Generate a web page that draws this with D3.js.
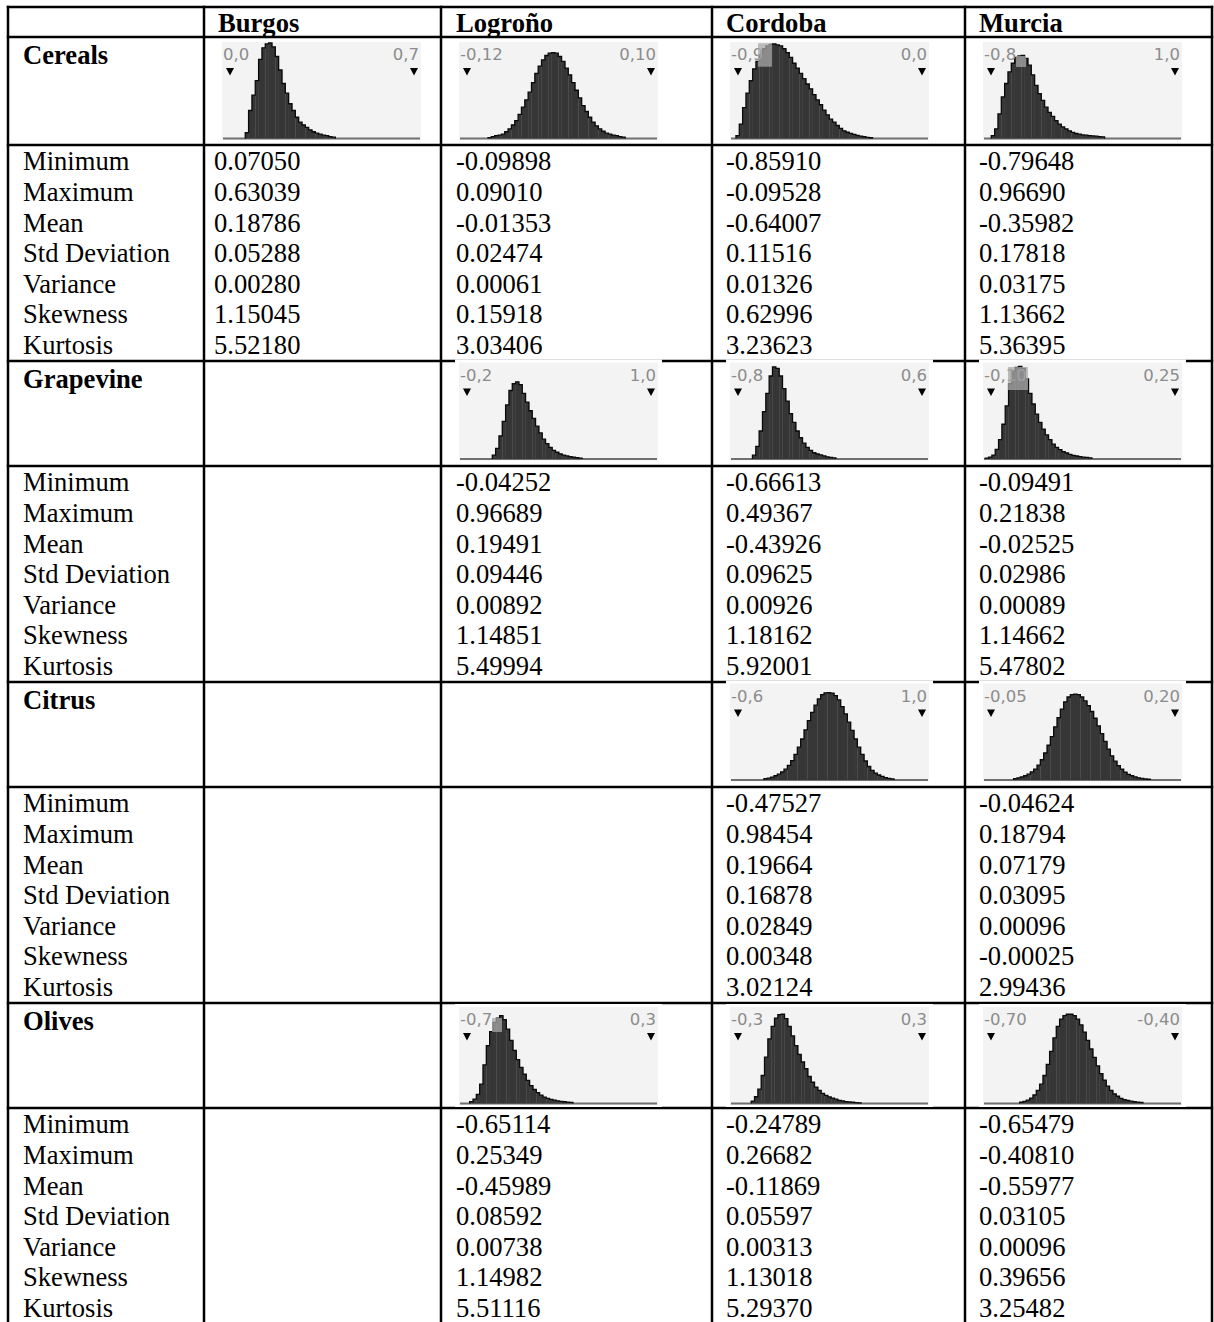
<!DOCTYPE html>
<html><head><meta charset="utf-8">
<script src="https://cdn.jsdelivr.net/npm/d3@7"></script>
<style>body{margin:0;background:#fff}svg{display:block}</style>
</head><body>
<svg id="c" width="1214" height="1322"></svg>
<script>
// ---------------- DATA ----------------
const columns = ["Burgos", "Logroño", "Cordoba", "Murcia"];
const crops = ["Cereals", "Grapevine", "Citrus", "Olives"];
const statNames = ["Minimum", "Maximum", "Mean", "Std Deviation", "Variance", "Skewness", "Kurtosis"];

// stats per crop, one array per column (null = empty cell)
const cerealsStats = [
  [0.07050, 0.63039, 0.18786, 0.05288, 0.00280, 1.15045, 5.52180],
  [-0.09898, 0.09010, -0.01353, 0.02474, 0.00061, 0.15918, 3.03406],
  [-0.85910, -0.09528, -0.64007, 0.11516, 0.01326, 0.62996, 3.23623],
  [-0.79648, 0.96690, -0.35982, 0.17818, 0.03175, 1.13662, 5.36395]
];
const grapevineStats = [
  null,
  [-0.04252, 0.96689, 0.19491, 0.09446, 0.00892, 1.14851, 5.49994],
  [-0.66613, 0.49367, -0.43926, 0.09625, 0.00926, 1.18162, 5.92001],
  [-0.09491, 0.21838, -0.02525, 0.02986, 0.00089, 1.14662, 5.47802]
];
const citrusStats = [
  null, null,
  [-0.47527, 0.98454, 0.19664, 0.16878, 0.02849, 0.00348, 3.02124],
  [-0.04624, 0.18794, 0.07179, 0.03095, 0.00096, -0.00025, 2.99436]
];
const olivesStats = [
  null,
  [-0.65114, 0.25349, -0.45989, 0.08592, 0.00738, 1.14982, 5.51116],
  [-0.24789, 0.26682, -0.11869, 0.05597, 0.00313, 1.13018, 5.29370],
  [-0.65479, -0.40810, -0.55977, 0.03105, 0.00096, 0.39656, 3.25482]
];
const statsByCrop = [cerealsStats, grapevineStats, citrusStats, olivesStats];

// histogram bar heights (fraction of the panel height)
const histCerealsBurgos = [0.06,0.29,0.45,0.6,0.82,0.94,0.98,0.99,0.95,0.85,0.71,0.57,0.47,0.36,0.29,0.22,0.17,0.14,0.115,0.09,0.07,0.055,0.045,0.035,0.03,0.02,0.015];
const histCerealsLogrono = [0.01,0.02,0.03,0.035,0.045,0.07,0.1,0.14,0.185,0.25,0.325,0.4,0.48,0.58,0.675,0.75,0.815,0.86,0.885,0.89,0.885,0.85,0.8,0.73,0.66,0.58,0.5,0.42,0.34,0.28,0.22,0.17,0.13,0.1,0.075,0.055,0.045,0.035,0.03,0.02,0.015];
const histCerealsCordoba = [0.03,0.15,0.32,0.47,0.6,0.72,0.8,0.87,0.93,0.96,0.975,0.98,0.97,0.96,0.93,0.89,0.84,0.78,0.73,0.675,0.62,0.565,0.515,0.455,0.4,0.35,0.295,0.245,0.2,0.17,0.135,0.105,0.08,0.065,0.052,0.042,0.033,0.025,0.018,0.012,0.008];
const histCerealsMurcia = [0.03,0.1,0.255,0.43,0.57,0.69,0.78,0.84,0.855,0.86,0.83,0.76,0.66,0.55,0.465,0.395,0.325,0.27,0.23,0.185,0.15,0.12,0.1,0.08,0.063,0.052,0.045,0.038,0.034,0.03,0.027,0.024,0.02,0.016];
const histGrapeLogrono = [0.04,0.11,0.24,0.39,0.56,0.71,0.78,0.8,0.77,0.68,0.59,0.5,0.42,0.34,0.27,0.205,0.16,0.12,0.09,0.07,0.054,0.041,0.032,0.025,0.018,0.013,0.009];
const histGrapeCordoba = [0.04,0.13,0.29,0.49,0.68,0.86,0.955,0.94,0.86,0.73,0.6,0.47,0.38,0.29,0.22,0.165,0.12,0.09,0.065,0.052,0.042,0.032,0.022,0.017,0.011];
const histGrapeMurcia = [0.01,0.02,0.04,0.1,0.2,0.36,0.55,0.78,0.91,0.95,0.96,0.94,0.83,0.68,0.57,0.465,0.38,0.31,0.25,0.2,0.155,0.12,0.097,0.076,0.062,0.048,0.038,0.031,0.024,0.02,0.016,0.012];
const histCitrusCordoba = [0.014,0.02,0.03,0.044,0.06,0.084,0.113,0.152,0.2,0.265,0.34,0.425,0.52,0.615,0.7,0.775,0.84,0.885,0.903,0.905,0.9,0.875,0.83,0.76,0.685,0.6,0.515,0.425,0.34,0.265,0.197,0.14,0.1,0.072,0.052,0.037,0.025,0.017,0.011];
const histCitrusMurcia = [0.014,0.022,0.032,0.044,0.061,0.084,0.113,0.155,0.21,0.28,0.36,0.45,0.55,0.645,0.735,0.81,0.86,0.885,0.89,0.885,0.86,0.82,0.77,0.71,0.64,0.56,0.48,0.4,0.32,0.25,0.195,0.15,0.113,0.082,0.059,0.044,0.032,0.023,0.017,0.012,0.008];
const histOlivesLogrono = [0.02,0.045,0.095,0.2,0.4,0.6,0.745,0.84,0.885,0.91,0.87,0.77,0.655,0.55,0.455,0.375,0.305,0.24,0.185,0.145,0.112,0.086,0.067,0.053,0.043,0.034,0.027,0.022,0.018,0.015,0.012];
const histOlivesCordoba = [0.025,0.07,0.15,0.29,0.48,0.67,0.8,0.885,0.92,0.925,0.88,0.8,0.7,0.6,0.51,0.43,0.36,0.28,0.22,0.17,0.135,0.105,0.085,0.068,0.056,0.045,0.033,0.026,0.02,0.016,0.013,0.009,0.006];
const histOlivesMurcia = [0.013,0.022,0.036,0.056,0.088,0.135,0.2,0.29,0.405,0.54,0.68,0.8,0.875,0.91,0.925,0.925,0.91,0.875,0.815,0.74,0.655,0.565,0.477,0.39,0.31,0.243,0.18,0.135,0.1,0.075,0.054,0.04,0.031,0.024,0.018,0.015,0.011];

// histogram axis labels and bin layout (data units)
const histSpecs = [
  {crop:0, col:0, lo:0.0,   hi:0.7,   loLabel:"0,0",   hiLabel:"0,7",   start:0.058,   step:0.0127,  heights:histCerealsBurgos},
  {crop:0, col:1, lo:-0.12, hi:0.10,  loLabel:"-0,12", hiLabel:"0,10",  start:-0.0949, step:0.004,   heights:histCerealsLogrono},
  {crop:0, col:2, lo:-0.9,  hi:0.0,   loLabel:"-0,9",  hiLabel:"0,0",   start:-0.91,   step:0.0163,  heights:histCerealsCordoba, hl:[-0.802,-0.734,0.744,0.987]},
  {crop:0, col:3, lo:-0.8,  hi:1.0,   loLabel:"-0,8",  hiLabel:"1,0",   start:-0.797,  step:0.0326,  heights:histCerealsMurcia,  hl:[-0.555,-0.458,0.741,0.855]},
  {crop:1, col:1, lo:-0.2,  hi:1.0,   loLabel:"-0,2",  hiLabel:"1,0",   start:-0.035,  step:0.0217,  heights:histGrapeLogrono},
  {crop:1, col:2, lo:-0.8,  hi:0.6,   loLabel:"-0,8",  hiLabel:"0,6",   start:-0.69,   step:0.0254,  heights:histGrapeCordoba},
  {crop:1, col:3, lo:-0.10, hi:0.25,  loLabel:"-0,10", hiLabel:"0,25",  start:-0.111,  step:0.00634, heights:histGrapeMurcia,    hl:[-0.0677,-0.0297,0.715,0.953]},
  {crop:2, col:2, lo:-0.6,  hi:1.0,   loLabel:"-0,6",  hiLabel:"1,0",   start:-0.374,  step:0.029,   heights:histCitrusCordoba},
  {crop:2, col:3, lo:-0.05, hi:0.20,  loLabel:"-0,05", hiLabel:"0,20",  start:-0.0192, step:0.00453, heights:histCitrusMurcia},
  {crop:3, col:1, lo:-0.7,  hi:0.3,   loLabel:"-0,7",  hiLabel:"0,3",   start:-0.6855, step:0.0181,  heights:histOlivesLogrono,  hl:[-0.564,-0.51,0.741,0.886]},
  {crop:3, col:2, lo:-0.3,  hi:0.3,   loLabel:"-0,3",  hiLabel:"0,3",   start:-0.257,  step:0.01087, heights:histOlivesCordoba},
  {crop:3, col:3, lo:-0.70, hi:-0.40, loLabel:"-0,70", hiLabel:"-0,40", start:-0.6533, step:0.00543, heights:histOlivesMurcia}
];

// ---------------- LAYOUT ----------------
const svg = d3.select("#c");
const colLines = [8, 204, 441, 712, 965, 1212];
const headerX = [218, 456, 726, 979];
const valueX  = [214, 456, 726, 979];
const labelX = 23;
const tableTop = 7, headerH = 30;
const histRowH = [108, 105, 105, 105];
const boxOffset = [5, 1.5, 1.5, 4];
const statBlockH = 216;
const fontSerif = "'Liberation Serif','Times New Roman',serif";
const fs = 26.6;
const fmt = d3.formatLocale({decimal: ".", thousands: ",", grouping: [3], currency: ["", ""], minus: "-"}).format(".5f");

// row tops
const histTop = [], statTop = [];
let yCur = tableTop + headerH;
crops.forEach((c, i) => {
  histTop.push(yCur); yCur += histRowH[i];
  statTop.push(yCur); yCur += statBlockH;
});

const gLines = svg.append("g");
const gHist = svg.append("g");
const gText = svg.append("g");

// horizontal rules
const hLines = [tableTop, tableTop + headerH];
crops.forEach((c, i) => { hLines.push(statTop[i]); hLines.push(statTop[i] + statBlockH); });
gLines.selectAll("line.h").data(hLines).join("line")
  .attr("x1", colLines[0] - 1.2).attr("x2", colLines[colLines.length - 1] + 1.2)
  .attr("y1", d => d).attr("y2", d => d)
  .attr("stroke", "#000").attr("stroke-width", 2.5);
gLines.selectAll("line.v").data(colLines).join("line")
  .attr("x1", d => d).attr("x2", d => d)
  .attr("y1", tableTop - 1.2).attr("y2", 1330)
  .attr("stroke", "#000").attr("stroke-width", 2.5);

// header
gText.selectAll("text.hdr").data(columns).join("text")
  .attr("x", (d, i) => headerX[i]).attr("y", tableTop + 25)
  .attr("font-family", fontSerif).attr("font-size", fs).attr("font-weight", "bold")
  .text(d => d);

// crop labels and stats
crops.forEach((crop, ci) => {
  gText.append("text").attr("x", labelX).attr("y", histTop[ci] + 27)
    .attr("font-family", fontSerif).attr("font-size", fs).attr("font-weight", "bold").text(crop);
  statNames.forEach((s, si) => {
    const yb = statTop[ci] + 25.4 + si * 30.6;
    gText.append("text").attr("x", labelX).attr("y", yb)
      .attr("font-family", fontSerif).attr("font-size", fs).text(s);
    statsByCrop[ci].forEach((vals, col) => {
      if (!vals) return;
      gText.append("text").attr("x", valueX[col]).attr("y", yb)
        .attr("font-family", fontSerif).attr("font-size", fs).text(fmt(vals[si]));
    });
  });
});

// histograms
const W = 199, H = 98, plotH = 96.5;
histSpecs.forEach(spec => {
  const bx = colLines[spec.col + 1] + 18;
  const by = histTop[spec.crop] + boxOffset[spec.crop];
  const g = gHist.append("g");
  g.append("rect").attr("x", bx - 4).attr("y", by - 3).attr("width", W + 8).attr("height", H + 5).attr("fill", "#fff");
  g.append("rect").attr("x", bx).attr("y", by).attr("width", W).attr("height", H).attr("fill", "#f3f3f3");
  const x = d3.scaleLinear().domain([spec.lo, spec.hi]).range([bx + 8, bx + 192]);
  const y = d3.scaleLinear().domain([0, 1]).range([by + plotH, by]);
  g.append("line").attr("x1", bx + 1).attr("x2", bx + W - 1).attr("y1", y(0)).attr("y2", y(0))
    .attr("stroke", "#707070").attr("stroke-width", 2);
  const bins = spec.heights.map((h, i) => ({x0: spec.start + i * spec.step, x1: spec.start + (i + 1) * spec.step, h}));
  g.selectAll("rect.bar").data(bins).join("rect")
    .attr("x", d => x(d.x0)).attr("width", d => x(d.x1) - x(d.x0) + 0.3)
    .attr("y", d => y(d.h)).attr("height", d => y(0) - y(d.h))
    .attr("fill", "#363636");
  const pts = [[x(bins[0].x0), y(0)]];
  bins.forEach(d => { pts.push([x(d.x0), y(d.h)]); pts.push([x(d.x1), y(d.h)]); });
  pts.push([x(bins[bins.length - 1].x1), y(0)]);
  g.append("path").attr("d", d3.line()(pts)).attr("fill", "none").attr("stroke", "#0a0a0a").attr("stroke-width", 1.3);
  // labels
  g.append("text").attr("x", bx + 1).attr("y", by + 18)
    .attr("font-family", "'DejaVu Sans',Verdana,sans-serif").attr("font-size", 16.5).attr("fill", "#8c8c8c").text(spec.loLabel);
  g.append("text").attr("x", bx + 197).attr("y", by + 18).attr("text-anchor", "end")
    .attr("font-family", "'DejaVu Sans',Verdana,sans-serif").attr("font-size", 16.5).attr("fill", "#8c8c8c").text(spec.hiLabel);
  // highlight square
  if (spec.hl) {
    g.append("rect").attr("x", x(spec.hl[0])).attr("width", x(spec.hl[1]) - x(spec.hl[0]))
      .attr("y", y(spec.hl[3])).attr("height", y(spec.hl[2]) - y(spec.hl[3]))
      .attr("fill", "#a8a8a8").attr("opacity", 0.75);
  }
  // triangles
  [spec.lo, spec.hi].forEach(v => {
    const cx = x(v);
    g.append("path").attr("d", d3.line()([[cx - 4, by + 26], [cx + 4, by + 26], [cx, by + 33.5]]) + "Z").attr("fill", "#000");
  });
});
</script>
</body></html>
